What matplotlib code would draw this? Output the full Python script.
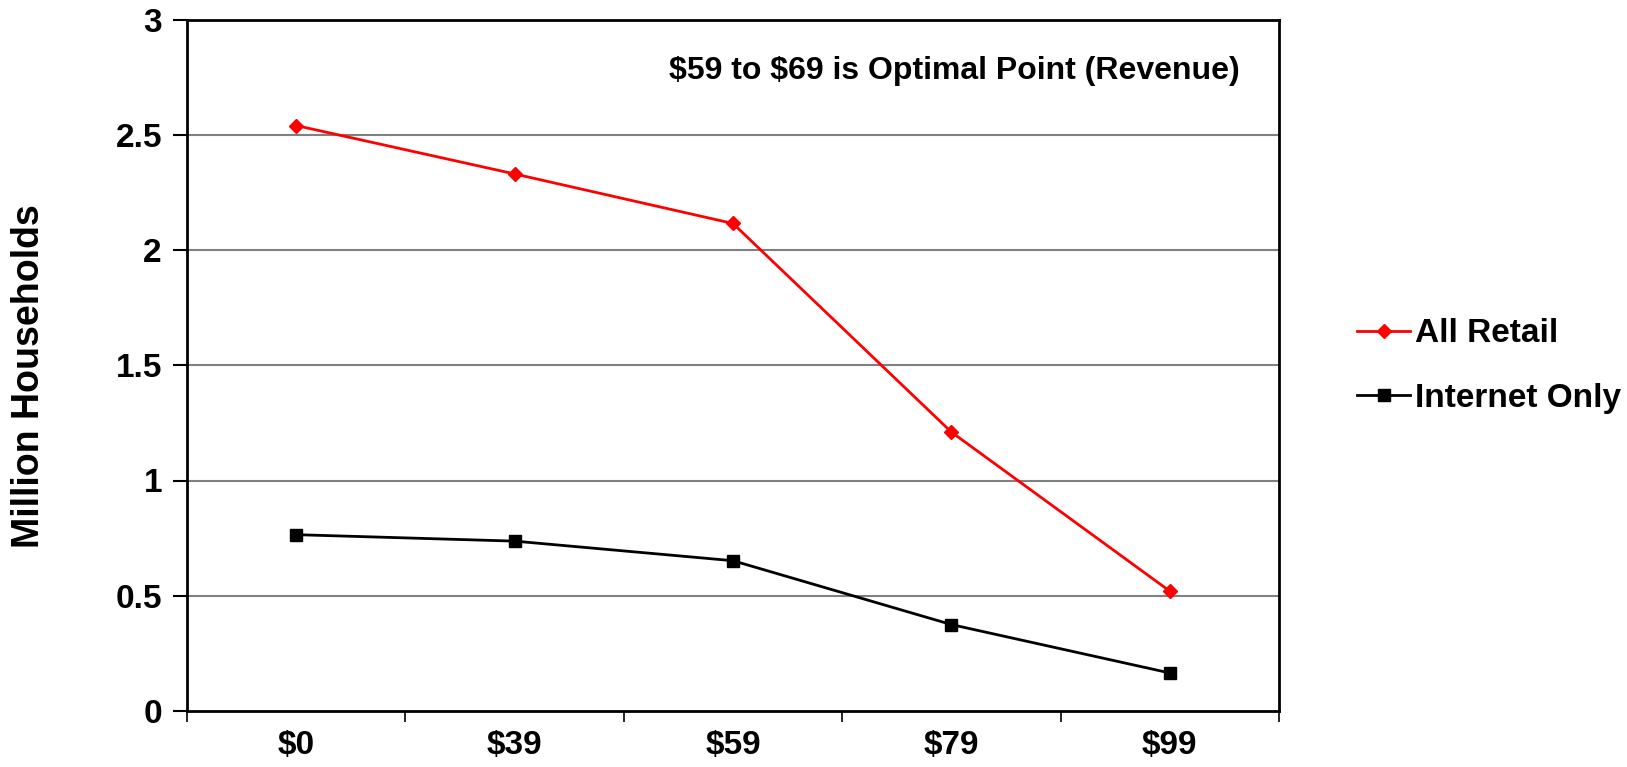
import matplotlib
matplotlib.use("Agg")
import matplotlib.pyplot as plt

categories = ["$0", "$39", "$59", "$79", "$99"]
all_retail = [2.54, 2.33, 2.115, 1.21, 0.52]
internet_only = [0.765, 0.737, 0.652, 0.375, 0.165]
y_ticks = [0, 0.5, 1, 1.5, 2, 2.5, 3]
y_tick_labels = ["0", "0.5", "1", "1.5", "2", "2.5", "3"]

plt.rcParams['font.family'] = ['Liberation Sans', 'DejaVu Sans']
plt.rcParams['font.weight'] = 'bold'

W, H = 1627, 767
fig = plt.figure(figsize=(W / 100, H / 100), dpi=100)
L, R, B, T = 187, 1279, 711, 19.5
ax = fig.add_axes([L / W, (H - B) / H, (R - L) / W, (B - T) / H])

x = list(range(len(categories)))
ax.plot(x, all_retail, color="#FF0000", lw=2, marker="D", ms=7.5, label="All Retail", zorder=3)
ax.plot(x, internet_only, color="#000000", lw=2, marker="s", ms=8.5, label="Internet Only", zorder=3)

ax.set_xlim(-0.5, len(categories) - 0.5)
ax.set_ylim(0, 3)
ax.set_yticks(y_ticks)
ax.set_yticklabels(y_tick_labels, fontsize=24, fontweight='bold')
ax.set_xticks(x)
ax.set_xticklabels(categories, fontsize=24, fontweight='bold')
ax.tick_params(axis='x', which='major', length=0, pad=14)
ax.set_xticks([i - 0.5 for i in range(len(categories) + 1)], minor=True)
ax.tick_params(axis='x', which='minor', length=8, width=1.2, direction='out')
ax.tick_params(axis='y', length=10, width=1.5, direction='out', pad=8)

for yv in y_ticks[1:-1]:
    ax.axhline(yv, color="#808080", lw=1.5, zorder=1)

for s in ax.spines.values():
    s.set_linewidth(2)
    s.set_color("black")

fig.text(29 / W, (H - 376) / H, "Million Households", rotation=90, ha="center", va="center",
         fontsize=27, fontweight='bold')

ax.text((1240 - L) / (R - L), (B - 70.5) / (B - T), "$59 to $69 is Optimal Point (Revenue)",
        transform=ax.transAxes, ha="right", va="center", fontsize=23, fontweight='bold',
        parse_math=False)

fig.legend(loc="center left", bbox_to_anchor=(1357 / W, (H - 366) / H), frameon=False,
           handlelength=1.6, handletextpad=0.15, labelspacing=1.0,
           borderaxespad=0, borderpad=0,
           prop={'weight': 'bold', 'size': 24})

fig.savefig("out.png", dpi=100)
